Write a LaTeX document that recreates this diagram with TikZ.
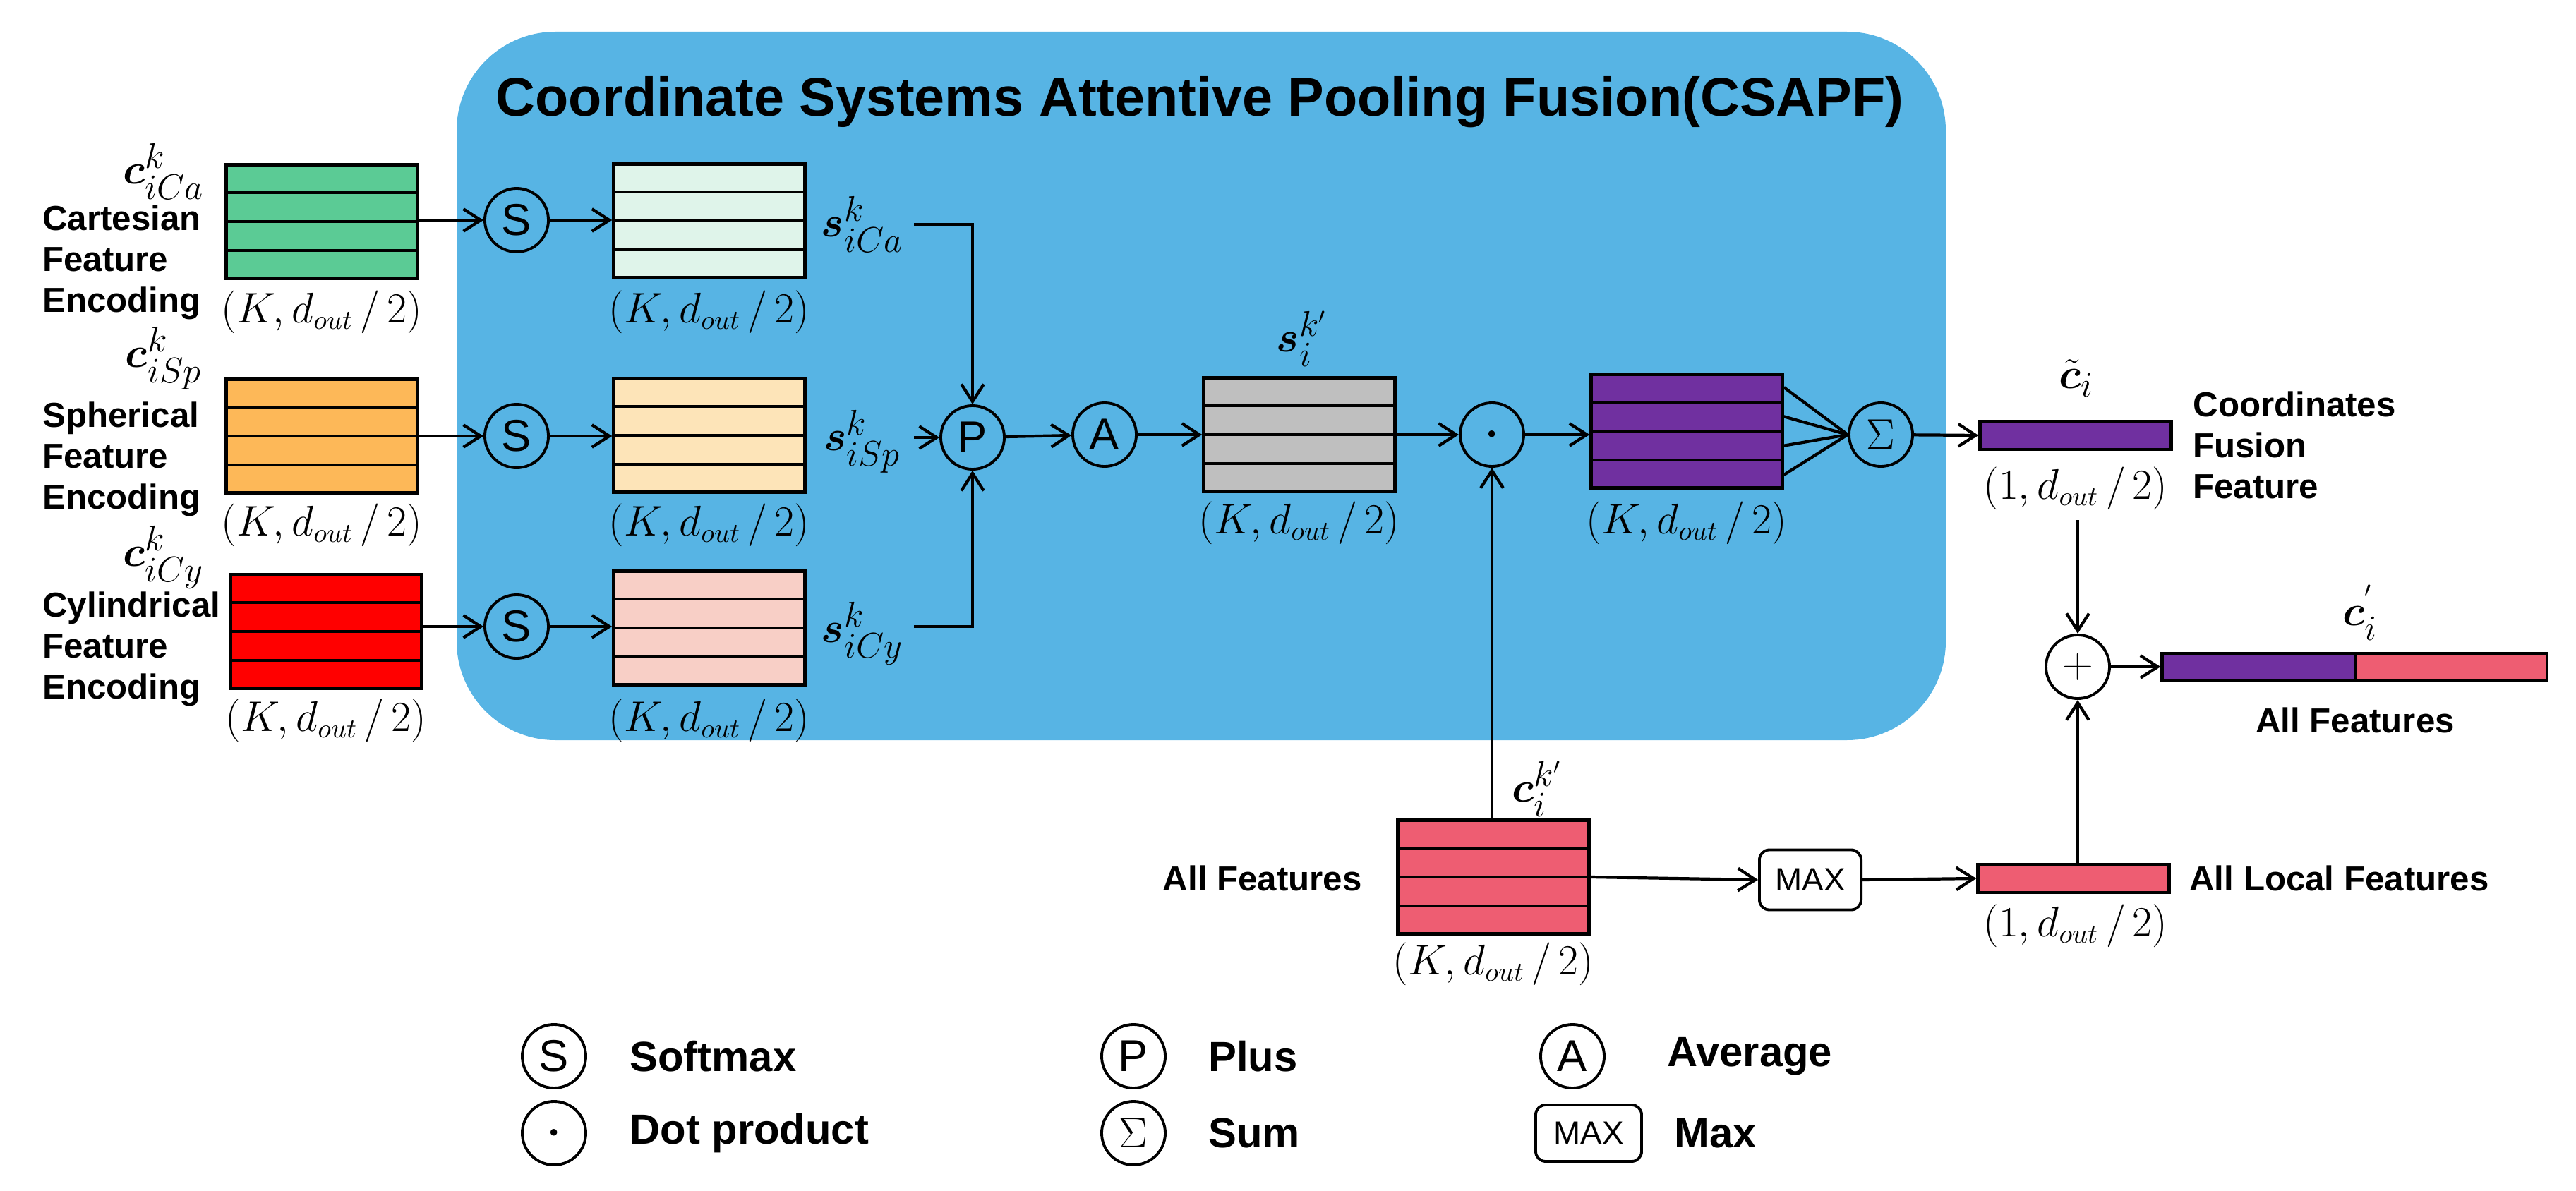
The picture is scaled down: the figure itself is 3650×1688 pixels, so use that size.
\documentclass[tikz,border=0pt]{standalone}
\usepackage{fontspec}
\usepackage{amsmath,bm}
\setmainfont{Liberation Sans}
\usetikzlibrary{calc,arrows.meta}
\definecolor{cblue}{HTML}{57B4E4}
\definecolor{cgreen}{HTML}{5BCB95}
\definecolor{clgreen}{HTML}{DFF4EA}
\definecolor{corange}{HTML}{FDB858}
\definecolor{clorange}{HTML}{FDE4B8}
\definecolor{cred}{HTML}{FF0000}
\definecolor{cpink}{HTML}{F8CFC6}
\definecolor{cgray}{HTML}{BFBFBF}
\definecolor{cpurple}{HTML}{7030A0}
\definecolor{crose}{HTML}{EE5D72}
\newcommand\mysz{\fontsize{16}{19}\selectfont}
\newcommand\dims{$(K,d_{out}\,/\,2)$}
\newcommand\dimone{$(1,d_{out}\,/\,2)$}
\begin{document}
\begin{tikzpicture}[x=0.01cm,y=-0.01cm,
  fb/.style={draw=black, line width=1.2pt, minimum width=2.71cm, minimum height=1.61cm, inner sep=0pt},
  bar/.style={draw=black, line width=1.2pt, minimum width=2.71cm, minimum height=0.4cm, inner sep=0pt},
  op/.style={circle, draw=black, line width=1.1pt, minimum size=0.9cm, inner sep=0pt, font=\fontsize{18}{20}\selectfont},
  txt/.style={font=\fontsize{14}{16.5}\selectfont\bfseries, align=left},
  lgd/.style={font=\fontsize{17}{20}\selectfont\bfseries, anchor=west},
  dim/.style={font=\mysz},
  ml/.style={font=\fontsize{19}{22}\selectfont},
  arr/.style={-{Straight Barb[length=7pt,width=9pt]}, line width=1.2pt},
  ln/.style={line width=1.2pt}]
\useasboundingbox (0,0) rectangle (3650,1688);
\fill[cblue, rounded corners=1.4cm] (647,45) rectangle (2757,1049);
\node[font=\fontsize{22}{26}\selectfont\bfseries] (title) at (1700,145) {Coordinate Systems Attentive Pooling Fusion(CSAPF)};
% feature boxes with rows
\foreach \n/\x/\y/\c in {g/456/314/cgreen, lg/1005/313/clgreen, o/456/618/corange, lo/1005/617/clorange, r/462/895/cred, pk/1005/890/cpink, gy/1841/616/cgray, pu/2390/611/cpurple, af/2116/1243/crose}{
  \node[fb, fill=\c] (\n) at (\x,\y) {};
  \foreach \t in {0.25,0.5,0.75}
    \draw[line width=1.2pt] ($(\n.north west)!\t!(\n.south west)$) -- ($(\n.north east)!\t!(\n.south east)$);
}
% dims labels
\node[dim] (dg) at (456,442) {\dims};
\node[dim] (dlg) at (1005,442) {\dims};
\node[dim] (do) at (456,744) {\dims};
\node[dim] (dlo) at (1005,744) {\dims};
\node[dim] (dr) at (462,1021) {\dims};
\node[dim] (dpk) at (1005,1021) {\dims};
\node[dim] (dgy) at (1841,741) {\dims};
\node[dim] (dpu) at (2390,741) {\dims};
\node[dim] (daf) at (2116,1366) {\dims};
\node[dim] (dct) at (2941,692) {\dimone};
\node[dim] (dlc) at (2941,1312) {\dimone};
% math labels
\node[ml] (mca) at (232,243) {$\bm{c}_{iCa}^{k}$};
\node[ml] (msp) at (232,508) {$\bm{c}_{iSp}^{k}$};
\node[ml] (mcy) at (232,790) {$\bm{c}_{iCy}^{k}$};
\node[ml] (sca) at (1222,318) {$\bm{s}_{iCa}^{k}$};
\node[ml] (ssp) at (1222,626) {$\bm{s}_{iSp}^{k}$};
\node[ml] (scy) at (1222,898) {$\bm{s}_{iCy}^{k}$};
\node[ml] (sgy) at (1845,480) {$\bm{s}_{i}^{k'}$};
\node[ml] (caf) at (2178,1118) {$\bm{c}_{i}^{k'}$};
\node[ml] (cti) at (2942,536) {$\tilde{\bm{c}}_{i}$};
\node[ml] (cpr) at (3344,868) {$\bm{c}_{i}^{'}$};
% side texts
\node[txt, anchor=west] (tca) at (48,372) {Cartesian\\Feature\\Encoding};
\node[txt, anchor=west] (tsp) at (48,651) {Spherical\\Feature\\Encoding};
\node[txt, anchor=west] (tcy) at (48,920) {Cylindrical\\Feature\\Encoding};
\node[txt, anchor=west] (tcf) at (3095,631) {Coordinates\\Fusion\\Feature};
\node[txt, anchor=east] (taf) at (1942,1245) {All Features};
\node[txt] (tall) at (3337,1021) {All Features};
\node[txt, anchor=west] (tlf) at (3090,1245) {All Local Features};
% operators
\node[op] (s1) at (732,312) {S};
\node[op] (s2) at (732,618) {S};
\node[op] (s3) at (732,888) {S};
\node[op] (p) at (1378,620) {P};
\node[op] (a) at (1565,616) {A};
\node[op] (dot) at (2114,616) {$\bm\cdot$};
\node[op] (sig) at (2665,616) {$\Sigma$};
\node[op, fill=white] (plus) at (2944,945) {$+$};
\node[draw=black, line width=1.1pt, rounded corners=4pt, fill=white, minimum width=1.44cm, minimum height=0.85cm, font=\fontsize{13}{15}\selectfont] (max) at (2565,1247) {MAX};
% bars
\node[bar, fill=cpurple] (ct) at (2941,617) {};
\node[bar, fill=crose] (lc) at (2938,1245) {};
\node[bar, fill=cpurple, minimum width=2.73cm, minimum height=0.38cm] (cc1) at (3200,945) {};
\node[bar, fill=crose, minimum width=2.72cm, minimum height=0.38cm] (cc2) at (3473,945) {};
% connectors
\draw[arr] (g.east |- s1) -- (s1);
\draw[arr] (s1) -- (lg.west |- s1);
\draw[arr] (o.east |- s2) -- (s2);
\draw[arr] (s2) -- (lo.west |- s2);
\draw[arr] (r.east |- s3) -- (s3);
\draw[arr] (s3) -- (pk.west |- s3);
\coordinate (ca0) at (1295,318);
\coordinate (cy0) at (1295,888);
\coordinate (sp0) at (1295,620);
\draw[arr] (ca0) -| (p.north);
\draw[arr] (cy0) -| (p.south);
\draw[arr] (sp0) -- (p);
\draw[arr] (p) -- (a);
\draw[arr] (a) -- (gy.west |- a);
\draw[arr] (gy.east |- dot) -- (dot);
\draw[arr] (dot) -- (pu.west |- dot);
\foreach \t in {0.125,0.375,0.625,0.875}
  \draw[ln] ($(pu.north east)!\t!(pu.south east)$) -- (sig.west);
\draw[arr] (sig) -- (ct.west);
\coordinate (ctd) at (2944,737);
\draw[arr] (ctd) -- (plus.north);
\draw[arr] (lc.north -| plus) -- (plus.south);
\draw[arr] (plus) -- (cc1.west);
\draw[arr] (af.north -| dot) -- (dot.south);
\draw[arr] (af.east) -- (max.west);
\draw[arr] (max.east) -- (lc.west);
% legend
\node[op] (ls) at (785,1497) {S};
\node[lgd] (lst) at (880,1497) {Softmax};
\node[op] (ld) at (785,1606) {$\bm\cdot$};
\node[lgd] (ldt) at (880,1606) {Dot product};
\node[op] (lp) at (1606,1497) {P};
\node[lgd] (lpt) at (1700,1497) {Plus};
\node[op] (lsg) at (1606,1606) {$\Sigma$};
\node[lgd] (lsgt) at (1700,1606) {Sum};
\node[op] (la) at (2228,1497) {A};
\node[lgd] (lat) at (2350,1497) {Average};
\node[draw=black, line width=1.1pt, rounded corners=4pt, minimum width=1.5cm, minimum height=0.8cm, font=\fontsize{13}{15}\selectfont] (lm) at (2251,1606) {MAX};
\node[lgd] (lmt) at (2360,1606) {Max};
\end{tikzpicture}
\end{document}
